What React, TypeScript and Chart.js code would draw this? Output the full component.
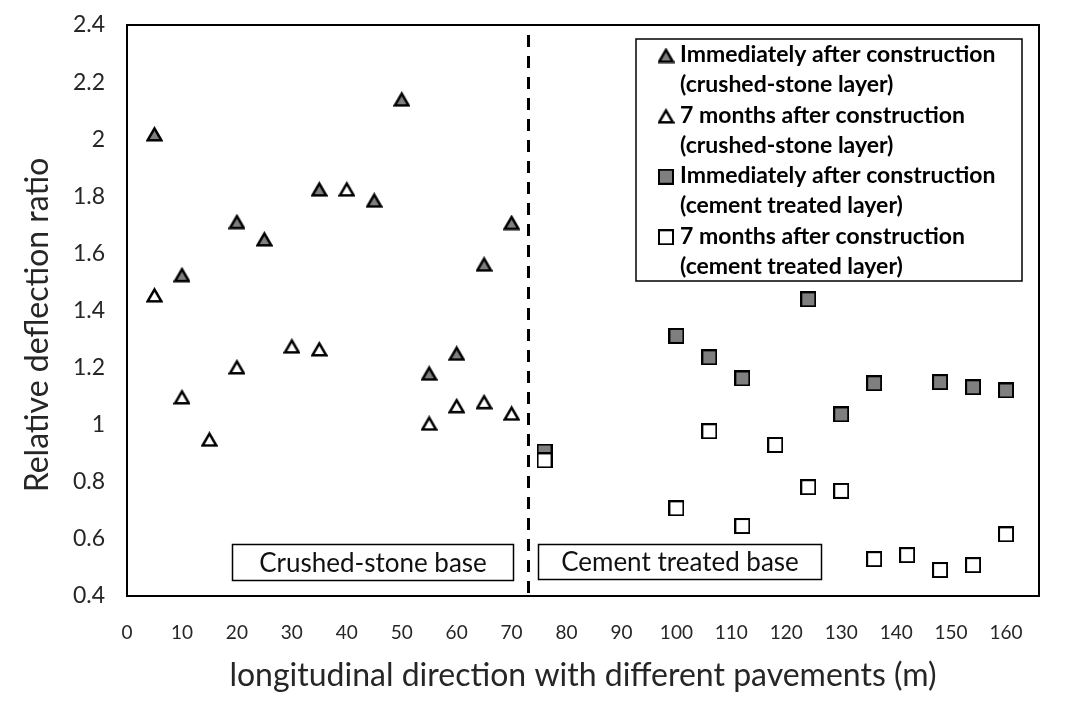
import React, { useEffect, useRef } from "react";
import { Chart, registerables } from "chart.js";

Chart.register(...registerables);

// ---- data ----
const X_TICKS = [0, 10, 20, 30, 40, 50, 60, 70, 80, 90, 100, 110, 120, 130, 140, 150, 160];
const Y_TICKS = [0.4, 0.6, 0.8, 1, 1.2, 1.4, 1.6, 1.8, 2, 2.2, 2.4];

const CRUSHED_IMMEDIATE_X = [5, 10, 20, 25, 35, 45, 50, 55, 60, 65, 70];
const CRUSHED_IMMEDIATE_Y = [2.018, 1.525, 1.711, 1.65, 1.825, 1.786, 2.14, 1.18, 1.25, 1.562, 1.708];

const CRUSHED_7M_X = [5, 10, 15, 20, 30, 35, 40, 55, 60, 65, 70];
const CRUSHED_7M_Y = [1.454, 1.097, 0.949, 1.202, 1.275, 1.265, 1.825, 1.005, 1.066, 1.08, 1.04];

const CEMENT_IMMEDIATE_X = [76, 100, 106, 112, 124, 130, 136, 148, 154, 160];
const CEMENT_IMMEDIATE_Y = [0.906, 1.311, 1.236, 1.162, 1.439, 1.036, 1.145, 1.149, 1.131, 1.12];

const CEMENT_7M_X = [76, 100, 106, 112, 118, 124, 130, 136, 142, 148, 154, 160];
const CEMENT_7M_Y = [0.875, 0.707, 0.977, 0.645, 0.929, 0.781, 0.768, 0.529, 0.543, 0.491, 0.508, 0.616];

const SERIES_LABELS = [
  ["Immediately after construction", "(crushed-stone layer)"],
  ["7 months after construction", "(crushed-stone layer)"],
  ["Immediately after construction", "(cement treated layer)"],
  ["7 months after construction", "(cement treated layer)"],
];
const REGION_LABELS = ["Crushed-stone base", "Cement treated base"];
const X_TITLE = "longitudinal direction with different pavements (m)";
const Y_TITLE = "Relative deflection ratio";
const DIVIDER_X = 73;
const DIVIDER_TOP = 2.365;

const GRAY = "#7f7f7f";
const TEXT = "#262626";
const FONT = "Lato, 'Open Sans', sans-serif";

function makeMarker(shape: "tri" | "sq", fill: string): HTMLCanvasElement {
  const c = document.createElement("canvas");
  const ctx = c.getContext("2d")!;
  if (shape === "tri") {
    c.width = 17;
    c.height = 16;
    ctx.beginPath();
    ctx.moveTo(8.5, 2.4);
    ctx.lineTo(15.4, 14.3);
    ctx.lineTo(1.6, 14.3);
    ctx.closePath();
    ctx.fillStyle = fill;
    ctx.fill();
    ctx.lineWidth = 2.5;
    ctx.lineJoin = "miter";
    ctx.strokeStyle = "#000";
    ctx.stroke();
  } else {
    c.width = 16;
    c.height = 16;
    ctx.fillStyle = fill;
    ctx.fillRect(1, 1, 14, 14);
    ctx.lineWidth = 2;
    ctx.strokeStyle = "#000";
    ctx.strokeRect(1, 1, 14, 14);
  }
  return c;
}

function pts(xs: number[], ys: number[]) {
  return xs.map((x, i) => ({ x, y: ys[i] }));
}

export default function App() {
  const ref = useRef<HTMLCanvasElement>(null);

  useEffect(() => {
    document.body.style.margin = "0";
    const markers = [
      makeMarker("tri", GRAY),
      makeMarker("tri", "#ffffff"),
      makeMarker("sq", GRAY),
      makeMarker("sq", "#ffffff"),
    ];

    const decor = {
      id: "decor",
      beforeDatasetsDraw(chart: any) {
        const { ctx, chartArea: a, scales } = chart;
        const xs = scales.x;
        const ys = scales.y;
        ctx.save();
        // divider
        const dx = Math.round(xs.getPixelForValue(DIVIDER_X)) + 0.5;
        ctx.strokeStyle = "#000";
        ctx.lineWidth = 3;
        ctx.setLineDash([12, 9]);
        ctx.beginPath();
        ctx.moveTo(dx, ys.getPixelForValue(DIVIDER_TOP));
        ctx.lineTo(dx, a.bottom);
        ctx.stroke();
        ctx.setLineDash([]);
        // region boxes
        const boxes = [
          { l: 232.5, t: 544.5, w: 281, h: 36 },
          { l: 538.5, t: 544.5, w: 283, h: 35 },
        ];
        ctx.lineWidth = 1.5;
        ctx.font = `26px ${FONT}`;
        ctx.textAlign = "center";
        ctx.textBaseline = "middle";
        boxes.forEach((b, i) => {
          ctx.fillStyle = "#fff";
          ctx.fillRect(b.l, b.t, b.w, b.h);
          ctx.strokeRect(b.l, b.t, b.w, b.h);
          ctx.fillStyle = "#111";
          ctx.fillText(REGION_LABELS[i], b.l + b.w / 2, b.t + b.h / 2 + 1);
        });
        ctx.restore();
      },
      afterDatasetsDraw(chart: any) {
        const { ctx, chartArea: a } = chart;
        ctx.save();
        // frame
        ctx.strokeStyle = "#000";
        ctx.lineWidth = 2;
        ctx.strokeRect(a.left, a.top, a.right - a.left, a.bottom - a.top);
        // legend
        ctx.fillStyle = "#fff";
        ctx.fillRect(636, 39, 386, 242);
        ctx.lineWidth = 1.5;
        ctx.strokeRect(636, 39, 386, 242);
        ctx.fillStyle = "#000";
        ctx.font = `bold 23px ${FONT}`;
        ctx.textAlign = "left";
        ctx.textBaseline = "middle";
        SERIES_LABELS.forEach((lines, i) => {
          const y0 = 54.5 + i * 60.6;
          const m = markers[i];
          ctx.drawImage(m, 666 - m.width / 2, y0 + 1 - m.height / 2);
          lines.forEach((ln, j) => ctx.fillText(ln, 680, y0 + j * 30.3));
        });
        // y-axis title
        ctx.translate(38, 325);
        ctx.rotate(-Math.PI / 2);
        ctx.fillStyle = TEXT;
        ctx.font = `32px ${FONT}`;
        ctx.textAlign = "center";
        ctx.textBaseline = "middle";
        ctx.fillText(Y_TITLE, 0, 0);
        ctx.restore();
      },
    };

    const chart = new Chart(ref.current!, {
      type: "scatter",
      data: {
        datasets: [
          { label: SERIES_LABELS[0].join(" "), data: pts(CRUSHED_IMMEDIATE_X, CRUSHED_IMMEDIATE_Y), pointStyle: markers[0], order: 3 },
          { label: SERIES_LABELS[1].join(" "), data: pts(CRUSHED_7M_X, CRUSHED_7M_Y), pointStyle: markers[1], order: 2 },
          { label: SERIES_LABELS[2].join(" "), data: pts(CEMENT_IMMEDIATE_X, CEMENT_IMMEDIATE_Y), pointStyle: markers[2], order: 1 },
          { label: SERIES_LABELS[3].join(" "), data: pts(CEMENT_7M_X, CEMENT_7M_Y), pointStyle: markers[3], order: 0 },
        ] as any,
      },
      options: {
        responsive: false,
        animation: false,
        devicePixelRatio: 1,
        layout: { padding: { left: 0, top: 25, right: 42, bottom: 0 } },
        plugins: { legend: { display: false }, tooltip: { enabled: false } },
        scales: {
          x: {
            type: "linear",
            min: 0,
            max: 166,
            afterBuildTicks: (s: any) => {
              s.ticks = X_TICKS.map((v) => ({ value: v }));
            },
            afterFit: (s: any) => {
              s.height = 119;
              s.paddingLeft = 0;
              s.paddingRight = 0;
            },
            grid: { display: false, drawTicks: false },
            border: { display: false },
            ticks: { color: TEXT, font: { family: FONT, size: 19 }, padding: 25, maxRotation: 0, autoSkip: false },
            title: { display: true, text: X_TITLE, color: TEXT, font: { family: FONT, size: 32 }, padding: { top: 0, bottom: 20 } },
          },
          y: {
            type: "linear",
            min: 0.4,
            max: 2.4,
            afterBuildTicks: (s: any) => {
              s.ticks = Y_TICKS.map((v) => ({ value: v }));
            },
            afterFit: (s: any) => {
              s.width = 127;
              s.paddingTop = 0;
              s.paddingBottom = 0;
            },
            grid: { display: false, drawTicks: false },
            border: { display: false },
            ticks: {
              color: TEXT,
              font: { family: FONT, size: 23 },
              padding: 22,
              callback: (v: any) => String(Math.round(Number(v) * 10) / 10),
            },
            title: { display: false, text: Y_TITLE },
          },
        },
      } as any,
      plugins: [decor],
    });
    return () => chart.destroy();
  }, []);

  return (
    <div style={{ position: "absolute", left: 0, top: 0, width: 1081, height: 715, background: "#fff" }}>
      <canvas ref={ref} width={1081} height={715} style={{ width: 1081, height: 715, display: "block" }} />
    </div>
  );
}
